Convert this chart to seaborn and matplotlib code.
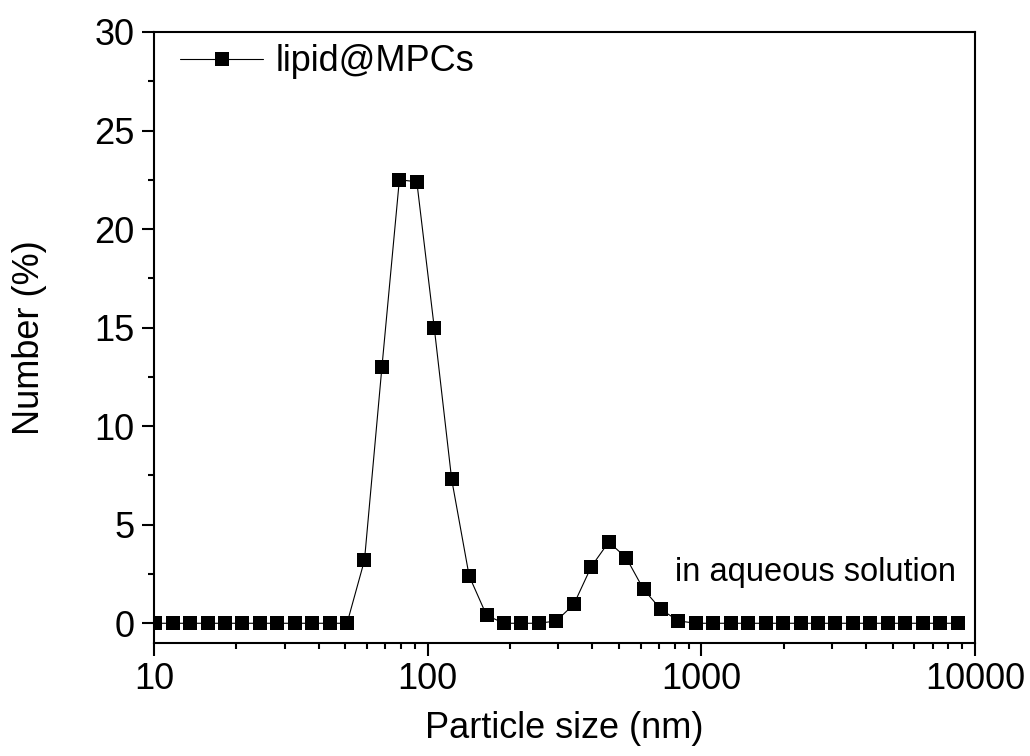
import matplotlib
matplotlib.use("Agg")
import matplotlib.pyplot as plt
import seaborn as sns
import pandas as pd
from matplotlib.ticker import FixedLocator, FixedFormatter, LogLocator, MultipleLocator, NullFormatter

# ---- data ----
sizes_nm = [10.1, 11.7, 13.54, 15.69, 18.17, 21.04, 24.36, 28.21, 32.67, 37.84,
            43.82, 50.75, 58.77, 68.06, 78.82, 91.28, 105.7, 122.4, 141.8, 164.2,
            190.1, 220.2, 255.0, 295.3, 342.0, 396.1, 458.7, 531.2, 615.1, 712.4,
            825.0, 955.4, 1106, 1281, 1484, 1718, 1990, 2305, 2669, 3091,
            3580, 4145, 4801, 5560, 6439, 7456, 8635]
number_pct = [0, 0, 0, 0, 0, 0, 0, 0, 0, 0,
              0, 0, 3.2, 13.0, 22.5, 22.4, 15.0, 7.3, 2.4, 0.4,
              0, 0, 0, 0.12, 0.96, 2.87, 4.12, 3.33, 1.72, 0.7,
              0.12, 0, 0, 0, 0, 0, 0, 0, 0, 0,
              0, 0, 0, 0, 0, 0, 0]
series_label = "lipid@MPCs"
x_ticks = [10, 100, 1000, 10000]
x_tick_labels = ["10", "100", "1000", "10000"]
y_ticks = [0, 5, 10, 15, 20, 25, 30]
annotation = "in aqueous solution"

df = pd.DataFrame({"size": sizes_nm, "number": number_pct})

sns.set_style("ticks")
plt.rcParams["font.family"] = ["Liberation Sans", "DejaVu Sans"]
plt.rcParams["text.color"] = "black"
plt.rcParams["axes.labelcolor"] = "black"

fig = plt.figure(figsize=(10.30, 7.56), dpi=100)
ax = fig.add_axes([0.1495, 0.1495, 0.7971, 0.8082])

sns.lineplot(data=df, x="size", y="number", ax=ax, color="black",
             linewidth=0.8, marker="s", markersize=9.5, markeredgewidth=0,
             markerfacecolor="black", label=series_label)

ax.set_xscale("log")
ax.set_xlim(10, 10000)
ax.set_ylim(-1, 30)

ax.xaxis.set_major_locator(FixedLocator(x_ticks))
ax.xaxis.set_major_formatter(FixedFormatter(x_tick_labels))
ax.xaxis.set_minor_locator(LogLocator(base=10, subs=[2, 3, 4, 5, 6, 7, 8, 9]))
ax.xaxis.set_minor_formatter(NullFormatter())
ax.yaxis.set_major_locator(FixedLocator(y_ticks))
ax.yaxis.set_minor_locator(MultipleLocator(2.5))

for s in ax.spines.values():
    s.set_linewidth(1.5)
    s.set_color("black")

ax.tick_params(axis="both", which="major", direction="out", length=9, width=1.5,
               labelsize=26, pad=5, colors="black", top=False, right=False)
ax.tick_params(axis="both", which="minor", direction="out", length=4.5, width=1.5,
               colors="black", top=False, right=False)

ax.set_xlabel("Particle size (nm)", fontsize=26, labelpad=10, color="black")
ax.set_ylabel("Number (%)", fontsize=26, labelpad=34, color="black")

leg = ax.legend(loc="center left", bbox_to_anchor=(0.032, 0.951), frameon=False,
                fontsize=26, handlelength=2.3, handletextpad=0.35,
                borderpad=0, borderaxespad=0)

ax.text(0.635, 0.115, annotation, transform=ax.transAxes, fontsize=23.5,
        ha="left", va="center", color="black")

fig.savefig("out.png", dpi=100)
